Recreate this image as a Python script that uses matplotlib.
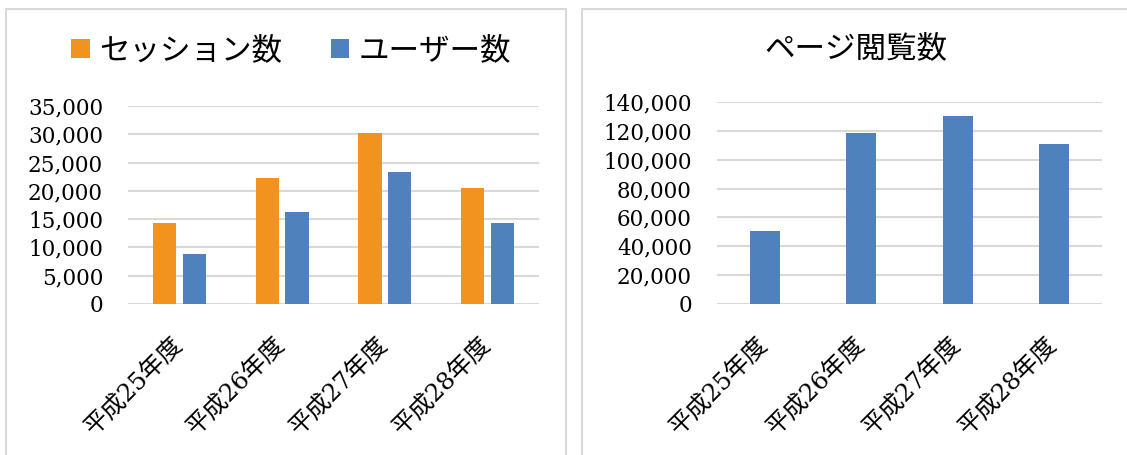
import matplotlib
matplotlib.use("Agg")
import matplotlib.pyplot as plt
from matplotlib.patches import Rectangle
import numpy as np

categories = ["平成25年度", "平成26年度", "平成27年度", "平成28年度"]
sessions = [14400, 22200, 30300, 20500]
users = [8900, 16200, 23400, 14400]
pageviews = [50900, 118300, 130000, 111200]
left_ticks = [0, 5000, 10000, 15000, 20000, 25000, 30000, 35000]
right_ticks = [0, 20000, 40000, 60000, 80000, 100000, 120000, 140000]

ORANGE = "#F2931F"
BLUE = "#4F81BD"
GRID = "#D9D9D9"
FONT = ["DejaVu Serif", "Noto Sans CJK JP"]
JFONT = ["Noto Sans CJK JP", "DejaVu Sans"]

W, H = 1127, 455
fig = plt.figure(figsize=(W / 100, H / 100), dpi=100)
fig.patch.set_facecolor("white")

# panel borders
for (x0, x1) in [(6, 566), (582, 1140)]:
    fig.patches.append(Rectangle((x0 / W, -0.05), (x1 - x0) / W, 1 - 9 / H + 0.05,
                                 transform=fig.transFigure, fill=False,
                                 edgecolor=GRID, linewidth=1.5))

def style(ax, ticks, lim):
    ax.set_ylim(0, lim)
    ax.set_yticks(ticks)
    ax.set_yticklabels([f"{t:,}" for t in ticks], family=FONT, fontsize=15.5)
    ax.set_xlim(-0.5, 3.5)
    ax.set_xticks(range(len(categories)))
    ax.set_xticklabels(categories, family=FONT, fontsize=17.5, rotation=45,
                       ha="right", va="center", rotation_mode="anchor")
    for s in ax.spines.values():
        s.set_visible(False)
    ax.tick_params(axis="y", length=0, pad=18)
    ax.tick_params(axis="x", length=0, pad=27)
    ax.grid(axis="y", color=GRID, linewidth=1.5)
    ax.set_axisbelow(True)

# left chart
ax1 = fig.add_axes([128 / W, 1 - 304 / H, 411 / W, 198 / H])
x = np.arange(len(categories))
ax1.bar(x - 0.145, sessions, width=0.225, color=ORANGE, label="セッション数")
ax1.bar(x + 0.145, users, width=0.225, color=BLUE, label="ユーザー数")
style(ax1, left_ticks, 35000)
leg = fig.legend(loc="center", bbox_to_anchor=(291 / W, 1 - 51 / H), ncol=2,
                 frameon=False, prop={"family": JFONT, "size": 22},
                 handlelength=0.6, handleheight=0.6, handletextpad=0.3,
                 columnspacing=1.6)

# right chart
ax2 = fig.add_axes([717 / W, 1 - 304 / H, 385 / W, 202 / H])
ax2.bar(x, pageviews, width=0.31, color=BLUE)
style(ax2, right_ticks, 140000)
fig.text(856 / W, 1 - 49 / H, "ページ閲覧数", family=JFONT, fontsize=22,
         ha="center", va="center")

fig.savefig("out.png", dpi=100, facecolor="white")
